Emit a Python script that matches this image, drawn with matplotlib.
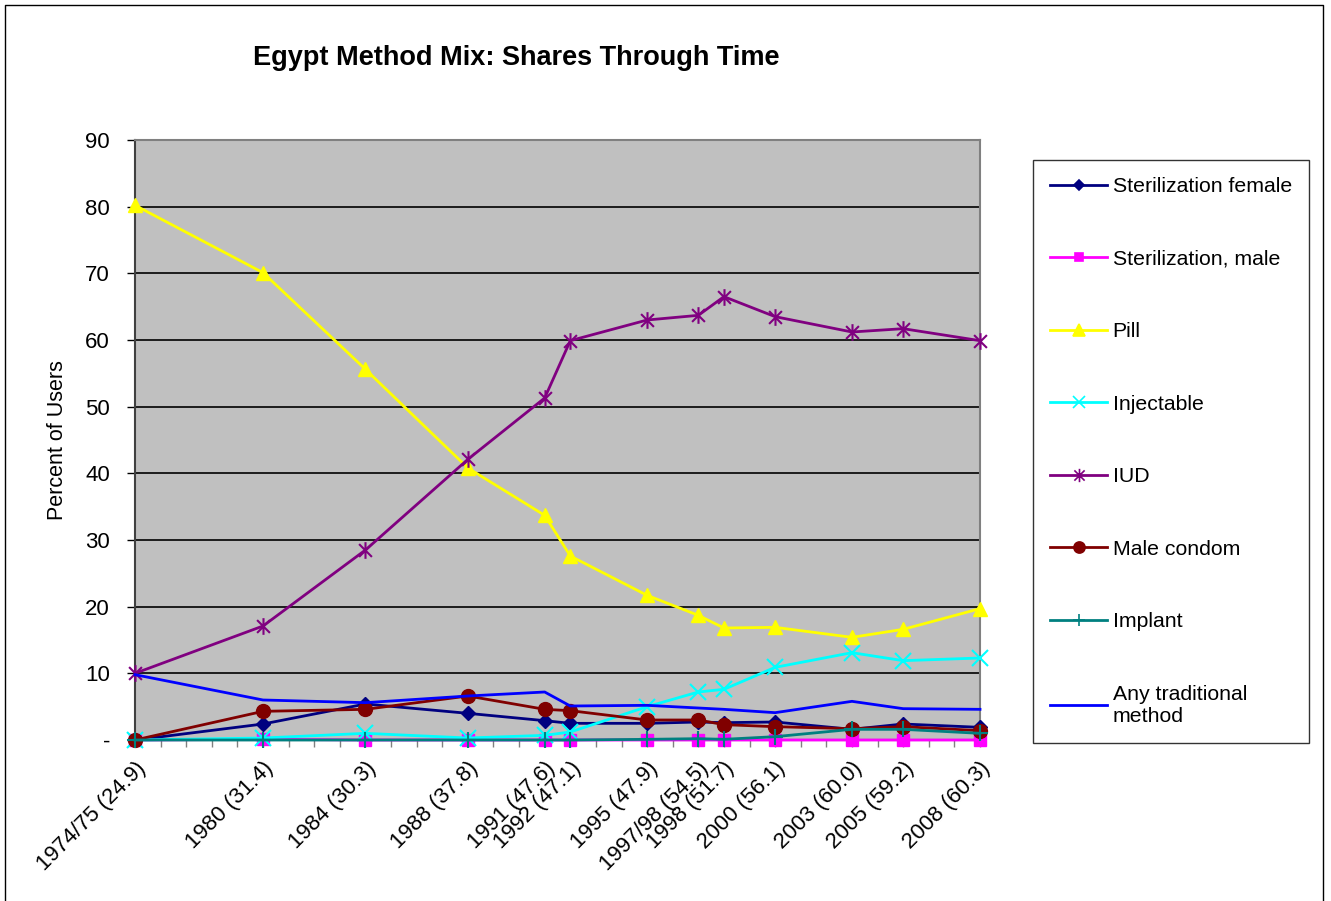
import numpy as np
import matplotlib.pyplot as plt
from matplotlib.path import Path
from matplotlib.lines import Line2D

plt.rcParams['font.family'] = ['Liberation Sans', 'DejaVu Sans']

# survey years (x positions) and their labels with overall prevalence
years = [1975, 1980, 1984, 1988, 1991, 1992, 1995, 1997, 1998, 2000, 2003, 2005, 2008]
year_labels = ['1974/75 (24.9)', '1980 (31.4)', '1984 (30.3)', '1988 (37.8)',
               '1991 (47.6)', '1992 (47.1)', '1995 (47.9)', '1997/98 (54.5)',
               '1998 (51.7)', '2000 (56.1)', '2003 (60.0)', '2005 (59.2)',
               '2008 (60.3)']

# percent of users by method
steril_female = [0.0, 2.4, 5.4, 4.0, 2.9, 2.5, 2.5, 2.7, 2.6, 2.7, 1.6, 2.4, 1.9]
steril_male = [0.0, 0.1, 0.0, 0.0, 0.0, 0.0, 0.0, 0.0, 0.0, 0.0, 0.0, 0.0, 0.0]
pill = [80.2, 70.1, 55.6, 40.8, 33.7, 27.6, 21.7, 18.7, 16.8, 16.9, 15.4, 16.6, 19.7]
injectable = [0.0, 0.3, 1.0, 0.3, 0.7, 1.2, 5.0, 7.2, 7.6, 10.9, 13.1, 11.9, 12.3]
iud = [10.0, 17.1, 28.5, 42.1, 51.3, 59.9, 63.0, 63.7, 66.5, 63.5, 61.2, 61.7, 59.9]
male_condom = [0.0, 4.3, 4.6, 6.6, 4.6, 4.4, 3.0, 3.0, 2.3, 2.0, 1.7, 2.0, 1.4]
implant = [0.0, 0.0, 0.0, 0.0, 0.0, 0.0, 0.1, 0.2, 0.1, 0.5, 1.6, 1.6, 1.0]
traditional = [9.8, 6.0, 5.6, 6.6, 7.2, 5.1, 5.2, 4.8, 4.6, 4.1, 5.8, 4.7, 4.6]

# asterisk marker: an x with a vertical bar through it
star_path = Path(
    [(-1, -1), (1, 1), (-1, 1), (1, -1), (0, -1.3), (0, 1.3)],
    [Path.MOVETO, Path.LINETO, Path.MOVETO, Path.LINETO, Path.MOVETO, Path.LINETO])

series = [
    ('Sterilization female', steril_female, '#000080', 'D', 7),
    ('Sterilization, male', steril_male, '#FF00FF', 's', 8),
    ('Pill', pill, '#FFFF00', '^', 10),
    ('Injectable', injectable, '#00FFFF', 'x', 11),
    ('IUD', iud, '#800080', star_path, 12),
    ('Male condom', male_condom, '#800000', 'o', 10),
    ('Implant', implant, '#008080', '+', 11),
    ('Any traditional\nmethod', traditional, '#0000FF', None, 0),
]

fig = plt.figure(figsize=(13.31, 9.01), dpi=100)
ax = fig.add_axes([135 / 1331, 1 - 740 / 901, 845 / 1331, 600 / 901])
ax.set_facecolor('#C0C0C0')

handles = []
for name, vals, col, mk, ms in series:
    thin = mk in ('x', '+') or mk is star_path
    ax.plot(years, vals, color=col, lw=2, marker=mk, markersize=ms,
            markeredgewidth=1.5 if thin else 1,
            markerfacecolor=col, markeredgecolor=col, clip_on=False, zorder=3)
    handles.append(Line2D([], [], color=col, lw=2, marker=mk,
                          markersize=ms * 0.8, markerfacecolor=col,
                          markeredgecolor=col, markeredgewidth=1.2))

ax.set_xlim(1975, 2008)
ax.set_ylim(0, 90)

ax.set_yticks(np.arange(0, 91, 10))
ax.set_yticklabels(['-'] + [str(v) for v in range(10, 91, 10)], fontsize=16)
for yv in range(10, 90, 10):
    ax.axhline(yv, color='black', lw=1.2, zorder=1)

ax.set_xticks(years)
ax.set_xticklabels(year_labels, rotation=45, ha='right', rotation_mode='anchor',
                   fontsize=16)
ax.set_xticks(np.arange(1975, 2009), minor=True)
ax.tick_params(axis='x', which='both', direction='out', length=5, width=1,
               colors='#808080', labelcolor='black', pad=8)
ax.tick_params(axis='y', direction='out', length=6, width=1, pad=12,
               colors='black')

for side in ['left', 'bottom']:
    ax.spines[side].set_color('#404040')
    ax.spines[side].set_linewidth(1.5)
for side in ['top', 'right']:
    ax.spines[side].set_color('#808080')
    ax.spines[side].set_linewidth(1.5)

ax.set_ylabel('Percent of Users', fontsize=15.5, labelpad=12)

fig.text(516 / 1331, 1 - 58 / 901, 'Egypt Method Mix: Shares Through Time',
         ha='center', va='center', fontsize=19.5, fontweight='bold')

leg = fig.legend(handles, [s[0] for s in series],
                 loc='upper left', bbox_to_anchor=(1033 / 1331, 1 - 160 / 901),
                 fontsize=15.3, frameon=True, fancybox=False, handlelength=2.7,
                 handletextpad=0.25, labelspacing=2.52, borderpad=0.8,
                 borderaxespad=0)
leg.get_frame().set_edgecolor('black')
leg.get_frame().set_linewidth(1)

# thin outer frame around the chart
fig.add_artist(Line2D([5 / 1331, 5 / 1331, 1323 / 1331, 1323 / 1331],
                      [0, 1 - 5 / 901, 1 - 5 / 901, 0],
                      transform=fig.transFigure, color='black', lw=1))

fig.savefig('out.png', dpi=100)
